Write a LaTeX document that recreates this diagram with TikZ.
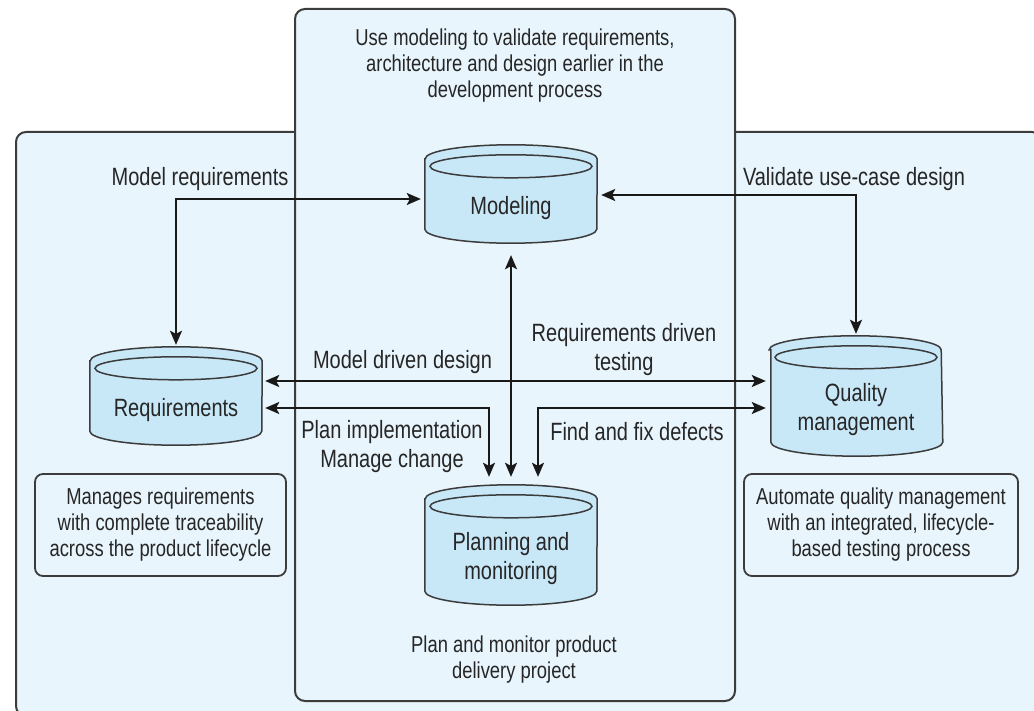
\documentclass[tikz,border=0pt]{standalone}
\usepackage{fontspec}
\setmainfont{Liberation Sans}[FakeStretch=0.8]
\usetikzlibrary{positioning}
\usetikzlibrary{arrows.meta}
\usetikzlibrary{backgrounds}
\definecolor{area_blue}{RGB}{232,245,252}
\definecolor{store_blue}{RGB}{200,232,248}
\definecolor{line_gray}{RGB}{60,60,60}
\tikzset{
        textnode/.style={align=center,inner sep=0pt,text=black!85},
        % Shaded areas
        area_box/.style={draw=line_gray, fill=area_blue, line width=2pt, rounded corners=10pt},
        % Data stores (node is the body under the lid)
        node_store/.style={textnode, font=\fontsize{25}{29}\selectfont, minimum width=172pt, minimum height=70pt},
        % Store outline
        store_line/.style={draw=line_gray, fill=store_blue, line width=1.5pt},
        % Note boxes
        node_note/.style={textnode, font=\fontsize{23}{26}\selectfont, draw=line_gray, line width=1.8pt, rounded corners=8pt, minimum height=102pt},
        % Arrow labels
        node_label/.style={textnode, font=\fontsize{25}{29}\selectfont},
        % Area captions
        node_caption/.style={textnode, font=\fontsize{23}{26}\selectfont},
        % Links
        link/.style={<->, >={Stealth[length=14pt,width=12pt,inset=3pt]}, line width=1.7pt, draw=black!90}
}
\begin{document}
\begin{tikzpicture}[x=1pt, y=-1pt]
    \useasboundingbox (0,0) rectangle (1034,711);
    \begin{scope}[on background layer]
        \draw[area_box] (16,132) rectangle (1042,716);
        \draw[area_box] (295,9) rectangle (735,701);
    \end{scope}

    \node[node_store] (modeling) at (511,208) {Modeling};
    \node[node_store] (requirements) at (176,410) {Requirements};
    \node[node_store, minimum width=170pt, minimum height=92pt] (quality) at (856,410) {Quality\\management};
    \node[node_store, minimum height=92pt] (planning) at (511,559) {Planning and\\monitoring};

    \begin{scope}[on background layer]
        \foreach \n in {modeling,requirements,quality,planning}{
            \draw[store_line] ([yshift=14pt]\n.north west) -- ([yshift=14pt]\n.south west)
                arc[start angle=180, end angle=360, x radius=86pt, y radius=14pt]
                -- ([yshift=14pt]\n.north east)
                arc[start angle=0, end angle=180, x radius=86pt, y radius=14pt] -- cycle;
            \draw[store_line] ([yshift=6.5pt]\n.north) ellipse[x radius=81pt, y radius=11.5pt];
        }
    \end{scope}

    \node[node_caption] (model_caption) at (515,66) {Use modeling to validate requirements,\\architecture and design earlier in the\\development process};
    \node[node_caption] (plan_caption) at (514,660) {Plan and monitor product\\delivery project};
    \node[node_note, minimum width=251pt] (req_note) at (160.5,525) {Manages requirements\\with complete traceability\\across the product lifecycle};
    \node[node_note, minimum width=274pt] (qual_note) at (881,525) {Automate quality management\\with an integrated, lifecycle-\\based testing process};

    \draw[link] ([yshift=30pt]requirements.north) |- ([shift={(-4pt,9pt)}]modeling.west);
    \draw[link] ([shift={(4pt,13pt)}]modeling.east) -| ([yshift=30pt]quality.north);
    \draw[link] ([yshift=-12pt]modeling.south) -- ([yshift=36pt]planning.north);
    \draw[link] ([shift={(3pt,29pt)}]requirements.east) -- ([shift={(-5pt,29pt)}]quality.west);
    \draw[link] ([shift={(3pt,2pt)}]requirements.east) -| ([shift={(-22pt,36pt)}]planning.north);
    \draw[link] ([shift={(-5pt,2pt)}]quality.west) -| ([shift={(27pt,36pt)}]planning.north);

    \node[node_label] (model_req) at (200,179) {Model requirements};
    \node[node_label] (validate) at (854,179) {Validate use-case design};
    \node[node_label] (model_design) at (402.5,362) {Model driven design};
    \node[node_label] (req_testing) at (624,349.5) {Requirements driven\\testing};
    \node[node_label] (plan_impl) at (392,446.5) {Plan implementation\\Manage change};
    \node[node_label] (find_fix) at (637,432) {Find and fix defects};
\end{tikzpicture}
\end{document}
